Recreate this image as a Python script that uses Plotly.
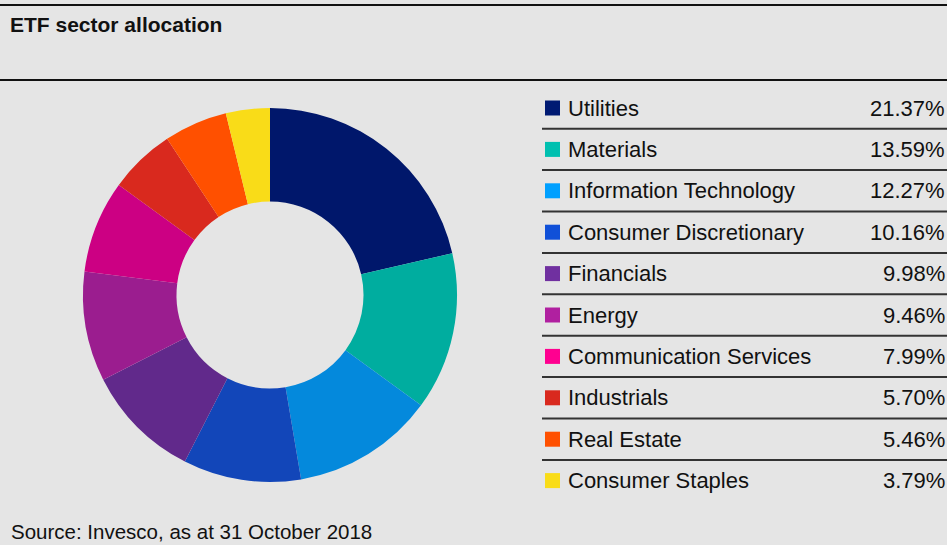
import plotly.graph_objects as go

# Sector weights (%) of the ETF
sectors = [
    "Utilities", "Materials", "Information Technology", "Consumer Discretionary",
    "Financials", "Energy", "Communication Services", "Industrials",
    "Real Estate", "Consumer Staples",
]
weights = [21.37, 13.59, 12.27, 10.16, 9.98, 9.46, 7.99, 5.70, 5.46, 3.79]

slice_colors = [
    "#00176b", "#00ad9f", "#0489dc", "#1246b9", "#61298b",
    "#9b1d8f", "#cc0083", "#d9291e", "#ff5000", "#f9dc18",
]
key_colors = [
    "#001a73", "#00c0b0", "#00a0ff", "#1050d8", "#7030a0",
    "#b020a0", "#ff0090", "#d9291e", "#ff5000", "#f9dc18",
]

title_text = "ETF sector allocation"
source_text = "Source: Invesco, as at 31 October 2018"

W, H = 947, 545
BG = "#e5e5e5"
FONT = "Liberation Sans, Arial, sans-serif"


def px(x):
    return x / W


def py(y):
    return 1 - y / H


fig = go.Figure()

fig.add_trace(go.Pie(
    labels=sectors,
    values=weights,
    hole=0.5,
    sort=False,
    direction="clockwise",
    rotation=0,
    marker=dict(colors=slice_colors, line=dict(width=0)),
    textinfo="none",
    hovertemplate="%{label}: %{value:.2f}%<extra></extra>",
    domain=dict(x=[px(83), px(457)], y=[py(482), py(108)]),
    showlegend=False,
))

shapes = []
annotations = []

# Rules above and below the heading
for y in (5, 80):
    shapes.append(dict(type="line", xref="paper", yref="paper",
                       x0=0, x1=1, y0=py(y), y1=py(y),
                       line=dict(color="#111111", width=2)))

annotations.append(dict(text=f"<b>{title_text}</b>", x=px(8), y=py(25),
                        xref="paper", yref="paper", xanchor="left", yanchor="middle",
                        showarrow=False, font=dict(family=FONT, size=21, color="#111111")))

# Key table: colour square, sector name, weight, separator
row0, step = 108, 41.4
for i, (name, w, c) in enumerate(zip(sectors, weights, key_colors)):
    yc = row0 + i * step
    shapes.append(dict(type="rect", xref="paper", yref="paper",
                       x0=px(545), x1=px(560), y0=py(yc + 7.5), y1=py(yc - 7.5),
                       fillcolor=c, line=dict(width=0)))
    annotations.append(dict(text=name, x=px(566), y=py(yc), xref="paper", yref="paper",
                            xanchor="left", yanchor="middle", showarrow=False,
                            font=dict(family=FONT, size=22, color="#111111")))
    annotations.append(dict(text=f"{w:.2f}%", x=px(947), y=py(yc), xref="paper", yref="paper",
                            xanchor="right", yanchor="middle", showarrow=False,
                            font=dict(family=FONT, size=22, color="#111111")))
    if i < len(sectors) - 1:
        ys = yc + step / 2
        shapes.append(dict(type="line", xref="paper", yref="paper",
                           x0=px(542), x1=1, y0=py(ys), y1=py(ys),
                           line=dict(color="#333333", width=2)))

annotations.append(dict(text=source_text, x=px(9), y=py(531), xref="paper", yref="paper",
                        xanchor="left", yanchor="middle", showarrow=False,
                        font=dict(family=FONT, size=20.5, color="#111111")))

fig.update_layout(
    width=W, height=H,
    margin=dict(l=0, r=0, t=0, b=0),
    paper_bgcolor=BG, plot_bgcolor=BG,
    shapes=shapes, annotations=annotations,
)

fig.write_html("out.html", config={"displayModeBar": False})
